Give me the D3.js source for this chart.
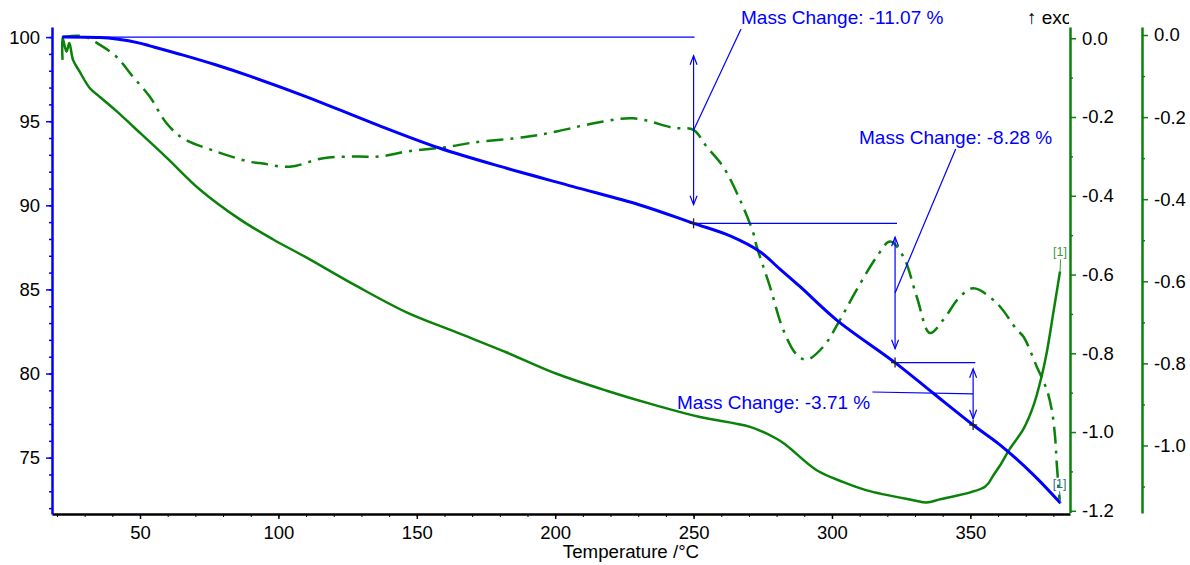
<!DOCTYPE html>
<html lang="en">
<head>
<meta charset="UTF-8">
<title>TG / DSC</title>
<script src="https://d3js.org/d3.v7.min.js"></script>
<style>
    body { margin: 0; background: #fff; }
    text { font-family: "Liberation Sans", Arial, sans-serif; }
    .tick text { font-size: 18.5px; fill: #000; }
</style>
</head>
<body>
<script>
    // TG curve (mass %)
    var tgTemp = [21.9, 35.5, 41.5, 49.9, 53.5, 65.6, 77.6, 89.7, 110.2, 134.3, 158.4, 182.5, 206.5, 230.6, 250,
        263.2, 274.0, 281.2, 288.5, 301.7, 322.8, 336.6, 351, 360.7, 372.8, 382.6];
    var tgMass = [100.0, 99.97, 99.88, 99.64, 99.48, 98.93, 98.34, 97.68, 96.45, 94.87, 93.39, 92.20, 91.11, 90.02, 88.93,
        88.18, 87.24, 86.21, 85.16, 83.18, 80.65, 78.83, 76.94, 75.76, 73.98, 72.29];

    // DSC dash-dot curve (outer right axis)
    var dscATemp = [22.1, 27.2, 30.1, 35.5, 41.5, 47.5, 53.5, 59.6, 65.6, 77.6, 89.7, 93.3, 104.1, 116.2, 128.2, 136.7,
        146.3, 160.8, 170.4, 189.7, 200.5, 212.6, 228.2, 242.7, 249.9, 254.7, 260.7, 266.8, 271.6, 272.8, 277.6, 282.4,
        287.3, 290.9, 296.9, 302.9, 308.9, 316.2, 321.0, 325.8, 330.6, 335.4, 340.2, 346.3, 351.1, 359.5, 366.8, 369.2,
        374.0, 377.6, 379.4, 380.6, 381.2, 382.2];
    var dscAVal = [-0.005, -0.002, -0.004, -0.024, -0.053, -0.102, -0.150, -0.215, -0.252, -0.284, -0.309, -0.312, -0.321,
        -0.300, -0.296, -0.296, -0.284, -0.273, -0.262, -0.248, -0.235, -0.217, -0.203, -0.226, -0.231, -0.272, -0.321,
        -0.402, -0.483, -0.515, -0.613, -0.718, -0.779, -0.791, -0.759, -0.694, -0.621, -0.540, -0.503, -0.540, -0.637,
        -0.726, -0.694, -0.637, -0.617, -0.653, -0.718, -0.735, -0.808, -0.864, -0.913, -0.978, -1.043, -1.132];

    // DSC solid curve (inner right axis)
    var dscBTemp = [22.0, 22.0, 23.44, 24.45, 25.8, 28.2, 31.9, 35.5, 41.5, 47.5, 59.6, 71.6, 86.1, 98.1,
        110.2, 128.2, 146.3, 164.4, 182.5, 200.5, 218.6, 236.7, 252.3, 270.4, 280.0, 283.6, 294.5, 304.1, 312.6, 329.4,
        334.2, 339.0, 355.3, 358.3, 360.7, 364.3, 369.2, 372.8, 375.8, 377.6, 380.0, 382.4];
    var dscBVal = [-0.055, 0.002, -0.034, -0.012, -0.055, -0.085, -0.127, -0.149, -0.185, -0.224, -0.303, -0.384,
        -0.460, -0.511, -0.557, -0.629, -0.696, -0.747, -0.798, -0.852, -0.895, -0.933, -0.962, -0.987,
        -1.017, -1.034, -1.097, -1.127, -1.148, -1.173, -1.179, -1.171, -1.139, -1.110, -1.085, -1.042, -0.992, -0.933,
        -0.857, -0.798, -0.696, -0.592];

    // mass change steps
    var stepTemp = [22, 250, 322.8, 351];
    var stepMass = [100, 88.93, 80.65, 76.94];
    var stepLabels = ["Mass Change: -11.07 %", "Mass Change: -8.28 %", "Mass Change: -3.71 %"];

    var xTicks = [50, 100, 150, 200, 250, 300, 350];
    var tgTicks = [75, 80, 85, 90, 95, 100];
    var dscTicksA = [0, -0.2, -0.4, -0.6, -0.8, -1.0];
    var dscTicksB = [0, -0.2, -0.4, -0.6, -0.8, -1.0, -1.2];

    var W = 1190, H = 565;
    var pl = 52, pr = 1070, pt = 27, pb = 514;
    var blue = "#0000ff", green = "#0a820a";

    var svg = d3.select("body").append("svg")
        .attr("width", W)
        .attr("height", H);

    var x = d3.scaleLinear().domain([18.2, 386]).range([pl, pr]);
    var yTG = d3.scaleLinear().domain([71.65, 100.6]).range([pb, pt]);
    var yB = d3.scaleLinear().domain([-1.2043, 0.0286]).range([pb - 1.5, pt]);
    var yA = d3.scaleLinear().domain([-1.1645, 0.0195]).range([pb - 1, pt]);

    // ---- axes ----
    function minor(sel) {
        sel.selectAll(".tick text").remove();
        sel.select(".domain").remove();
    }

    // x axis
    svg.append("g")
        .attr("transform", "translate(0," + pb + ")")
        .call(d3.axisBottom(x).tickValues(d3.range(20, 386, 10)).tickSize(3))
        .call(minor)
        .selectAll("line").attr("stroke", "#000");
    var gx = svg.append("g")
        .attr("transform", "translate(0," + pb + ")")
        .call(d3.axisBottom(x).tickValues(xTicks).tickSize(5).tickPadding(7).tickSizeOuter(0));
    gx.select(".domain").attr("stroke", "#000").attr("stroke-width", 2.5);
    gx.selectAll(".tick line").attr("stroke", "#000").attr("stroke-width", 1.5);

    // left axis (mass)
    svg.append("g")
        .attr("transform", "translate(" + pl + ",0)")
        .call(d3.axisLeft(yTG).tickValues(d3.range(72, 101, 1)).tickSize(3))
        .call(minor)
        .selectAll("line").attr("stroke", blue).attr("stroke-width", 1.5);
    var gl = svg.append("g")
        .attr("transform", "translate(" + pl + ",0)")
        .call(d3.axisLeft(yTG).tickValues(tgTicks).tickSize(6).tickPadding(6).tickSizeOuter(0));
    gl.select(".domain").attr("stroke", blue).attr("stroke-width", 2.5);
    gl.selectAll(".tick line").attr("stroke", blue).attr("stroke-width", 1.5);

    // inner right axis
    svg.append("g")
        .attr("transform", "translate(" + pr + ",0)")
        .call(d3.axisRight(yB).tickValues(d3.range(-11, 0, 2).map(function (d) { return d / 10; })).tickSize(3))
        .call(minor)
        .selectAll("line").attr("stroke", green).attr("stroke-width", 1.5);
    var gr1 = svg.append("g")
        .attr("transform", "translate(" + pr + ",0)")
        .call(d3.axisRight(yB).tickValues(dscTicksB).tickSize(6).tickPadding(6).tickSizeOuter(0)
            .tickFormat(d3.format(".1f")));
    gr1.select(".domain").attr("stroke", green).attr("stroke-width", 2.5);
    gr1.selectAll(".tick line").attr("stroke", green).attr("stroke-width", 1.5);

    // outer right axis
    var outer = 1142;
    svg.append("g")
        .attr("transform", "translate(" + outer + ",0)")
        .call(d3.axisRight(yA).tickValues(d3.range(-11, 0, 2).map(function (d) { return d / 10; })).tickSize(3))
        .call(minor)
        .selectAll("line").attr("stroke", green).attr("stroke-width", 1.5);
    var gr2 = svg.append("g")
        .attr("transform", "translate(" + outer + ",0)")
        .call(d3.axisRight(yA).tickValues(dscTicksA).tickSize(6).tickPadding(6).tickSizeOuter(0)
            .tickFormat(d3.format(".1f")));
    gr2.select(".domain").attr("stroke", green).attr("stroke-width", 2.5);
    gr2.selectAll(".tick line").attr("stroke", green).attr("stroke-width", 1.5);

    svg.selectAll(".tick text").style("font-size", "18.5px").attr("fill", "#000");
    svg.selectAll(".tick text").text(function () {
        return d3.select(this).text().replace("\u2212", "-");
    });

    // x label
    svg.append("text")
        .attr("x", 631).attr("y", 558)
        .attr("text-anchor", "middle")
        .style("font-size", "18.7px")
        .text("Temperature /\u00b0C");

    // exo marker, cut by the axis
    svg.append("clipPath").attr("id", "exoclip")
        .append("rect").attr("x", 0).attr("y", 0).attr("width", pr - 1).attr("height", 40);
    svg.append("text")
        .attr("clip-path", "url(#exoclip)")
        .attr("x", 1027).attr("y", 24)
        .style("font-size", "19px")
        .text("\u2191 exo");

    // ---- curves ----
    function pts(t, v) {
        return t.map(function (d, i) { return [d, v[i]]; });
    }

    var line = d3.line().curve(d3.curveCatmullRom.alpha(0.5));

    svg.append("path")
        .attr("d", line.x(function (d) { return x(d[0]); }).y(function (d) { return yB(d[1]); })(pts(dscBTemp, dscBVal)))
        .attr("fill", "none").attr("stroke", green).attr("stroke-width", 2.5);

    svg.append("path")
        .attr("d", line.x(function (d) { return x(d[0]); }).y(function (d) { return yA(d[1]); })(pts(dscATemp, dscAVal)))
        .attr("fill", "none").attr("stroke", green).attr("stroke-width", 2.5)
        .attr("stroke-dasharray", "17,7,3,7");

    svg.append("path")
        .attr("d", line.x(function (d) { return x(d[0]); }).y(function (d) { return yTG(d[1]); })(pts(tgTemp, tgMass)))
        .attr("fill", "none").attr("stroke", blue).attr("stroke-width", 3);

    // [1] end labels
    var lastB = dscBTemp.length - 1, lastT = tgTemp.length - 1;
    svg.append("line")
        .attr("x1", x(dscBTemp[lastB]) + 0.5).attr("y1", yB(dscBVal[lastB]) - 12)
        .attr("x2", x(dscBTemp[lastB])).attr("y2", yB(dscBVal[lastB]))
        .attr("stroke", "#3a9a3a").attr("stroke-width", 1);
    svg.append("text")
        .attr("x", x(dscBTemp[lastB])).attr("y", yB(dscBVal[lastB]) - 15)
        .attr("text-anchor", "middle").attr("fill", "#3a9a3a")
        .style("font-size", "12.5px").text("[1]");
    svg.append("line")
        .attr("x1", x(tgTemp[lastT]) - 1).attr("y1", yTG(tgMass[lastT]) - 12)
        .attr("x2", x(tgTemp[lastT])).attr("y2", yTG(tgMass[lastT]))
        .attr("stroke", "#2e7080").attr("stroke-width", 1);
    svg.append("text")
        .attr("x", x(tgTemp[lastT]) - 1).attr("y", yTG(tgMass[lastT]) - 15)
        .attr("text-anchor", "middle").attr("fill", "#2e7080")
        .style("font-size", "12.5px").text("[1]");

    // ---- mass change annotations ----
    var ann = svg.append("g").attr("stroke", blue).attr("stroke-width", 1.2).attr("fill", "none");
    // text x, baseline, leader anchor (0 left, 0.5 middle, 1 right), leader dy from baseline
    var labelPos = [[741, 24, 0, 5], [859, 144, 0.5, 5], [677, 409, 1, -17]];
    var lineEnd = [323.5, 351.8, 351.8];

    for (var i = 0; i < 3; i++) {
        var xa = x(stepTemp[i + 1]);
        var y0 = yTG(stepMass[i]), y1 = yTG(stepMass[i + 1]);
        var x0 = i === 0 ? x(stepTemp[0]) : x(stepTemp[i]);
        var gap = (y1 - y0) * 0.1;

        if (i === 0) {
            ann.append("line").attr("x1", x0).attr("x2", xa + 1).attr("y1", y0).attr("y2", y0);
        }
        ann.append("line").attr("x1", xa).attr("x2", x(lineEnd[i])).attr("y1", y1).attr("y2", y1);

        // double arrow
        var ya = y0 + gap, yb = y1 - gap;
        ann.append("line").attr("x1", xa).attr("x2", xa).attr("y1", ya).attr("y2", yb);
        ann.append("polyline").attr("points", [[xa - 3.5, ya + 9], [xa, ya], [xa + 3.5, ya + 9]].join(" "));
        ann.append("polyline").attr("points", [[xa - 3.5, yb - 9], [xa, yb], [xa + 3.5, yb - 9]].join(" "));

        // label + leader
        var t = svg.append("text")
            .attr("x", labelPos[i][0]).attr("y", labelPos[i][1])
            .attr("fill", blue)
            .style("font-size", "19px")
            .text(stepLabels[i]);
        var bb = t.node().getBBox();
        var lx = bb.x + bb.width * labelPos[i][2] + (labelPos[i][2] === 1 ? 2 : 0);
        ann.append("line")
            .attr("x1", lx).attr("y1", labelPos[i][1] + labelPos[i][3])
            .attr("x2", xa).attr("y2", (y0 + y1) / 2);
    }

    // cross markers on the TG curve
    var cross = svg.append("g").attr("stroke", "#222").attr("stroke-width", 1.3);
    for (var k = 1; k < stepTemp.length; k++) {
        var cx = x(stepTemp[k]), cy = yTG(stepMass[k]);
        cross.append("line").attr("x1", cx - 4).attr("x2", cx + 4).attr("y1", cy).attr("y2", cy);
        cross.append("line").attr("x1", cx).attr("x2", cx).attr("y1", cy - 5).attr("y2", cy + 5);
    }
</script>
</body>
</html>
